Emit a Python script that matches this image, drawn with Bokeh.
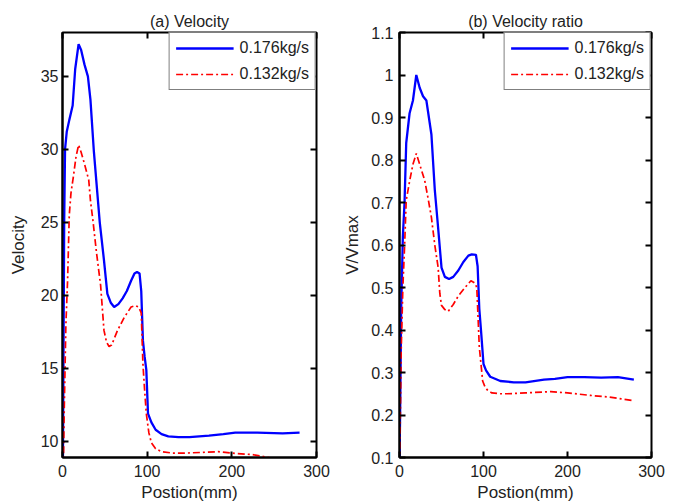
from bokeh.plotting import figure
from bokeh.layouts import row
from bokeh.models import Range1d, FixedTicker, LinearAxis
from bokeh.embed import file_html
from bokeh.resources import INLINE

# ---- data ----
# (a) Velocity
vel_176_x = [0, 1, 2, 3, 5, 8, 12, 15, 19, 22, 26, 30, 33, 37, 44, 49, 53, 57, 61, 66, 71, 76, 81,
             85, 88, 91, 93, 95, 97, 99, 101, 105, 110, 117, 125, 137, 150, 173, 190, 204, 230, 260, 280]
vel_176_y = [3, 14, 25, 30, 31.2, 32, 33, 35.5, 37.2, 36.8, 35.8, 35, 33.4, 29.9, 25, 22.4, 20.1, 19.5,
             19.2, 19.4, 19.8, 20.3, 21.0, 21.5, 21.6, 21.5, 20.3, 16.9, 15.8, 14.9, 11.9, 11.3, 10.8,
             10.5, 10.35, 10.3, 10.3, 10.4, 10.5, 10.6, 10.6, 10.55, 10.6]
vel_132_x = [0, 1, 2, 4, 6, 8, 10, 13, 16, 19, 22, 26, 31, 33, 36, 40, 45, 49, 52, 55, 58, 65, 73, 81,
             86, 90, 93, 95, 97, 99, 102, 105, 110, 117, 130, 144, 165, 184, 200, 224, 244, 260, 280]
vel_132_y = [2, 8, 12, 18, 21, 25.5, 27, 28.2, 29.5, 30.3, 29.8, 29.0, 27.9, 26.5, 25.1, 23, 20.7, 17.6,
             16.8, 16.5, 16.6, 17.6, 18.5, 19.2, 19.3, 19.2, 18.8, 15.3, 13.5, 11.9, 10.6, 9.9, 9.5,
             9.3, 9.2, 9.2, 9.25, 9.3, 9.2, 9.1, 8.9, 8.8, 8.7]

# (b) Velocity ratio
ratio_176_x = [0, 1, 2, 4, 6, 8, 12, 16, 20, 24, 28, 32, 38, 42, 46, 50, 54, 59, 64, 70, 76, 82, 86,
               91, 93, 95, 97, 100, 103, 108, 113, 120, 136, 150, 172, 185, 200, 220, 240, 260, 279]
ratio_176_y = [0.08, 0.25, 0.45, 0.62, 0.70, 0.84, 0.91, 0.94, 1.0, 0.97, 0.95, 0.94, 0.86, 0.73, 0.64,
               0.547, 0.525, 0.52, 0.525, 0.54, 0.56, 0.575, 0.578, 0.577, 0.55, 0.45, 0.40, 0.32,
               0.305, 0.29, 0.286, 0.28, 0.277, 0.277, 0.283, 0.285, 0.289, 0.289, 0.288, 0.289, 0.283]
ratio_132_x = [0, 1, 2, 4, 6, 8, 12, 16, 20, 24, 30, 34, 38, 42, 46, 48, 50, 54, 58, 64, 70, 78, 85,
               90, 92, 95, 97, 99, 102, 105, 110, 120, 129, 150, 180, 200, 228, 250, 278]
ratio_132_y = [0.05, 0.2, 0.35, 0.5, 0.594, 0.705, 0.75, 0.79, 0.815, 0.79, 0.752, 0.71, 0.665, 0.6,
               0.547, 0.486, 0.458, 0.448, 0.444, 0.46, 0.48, 0.50, 0.516, 0.51, 0.50, 0.36, 0.32,
               0.28, 0.265, 0.258, 0.252, 0.25, 0.25, 0.252, 0.255, 0.252, 0.246, 0.242, 0.234]

series_labels = ["0.176kg/s", "0.132kg/s"]
x_ticks = [0, 100, 200, 300]
x_tick_labels = ["0", "100", "200", "300"]
vel_ticks = [10, 15, 20, 25, 30, 35]
vel_tick_labels = ["10", "15", "20", "25", "30", "35"]
ratio_ticks = [0.1, 0.2, 0.3, 0.4, 0.5, 0.6, 0.7, 0.8, 0.9, 1.0, 1.1]
ratio_tick_labels = ["0.1", "0.2", "0.3", "0.4", "0.5", "0.6", "0.7", "0.8", "0.9", "1", "1.1"]

FONT = "Liberation Sans"
TXT = "#222222"


def style_axis(ax, ticks, labels, standoff):
    ax.ticker = FixedTicker(ticks=ticks)
    ax.major_label_overrides = {t: l for t, l in zip(ticks, labels)}
    ax.minor_tick_line_color = None
    ax.major_tick_in = 6
    ax.major_tick_out = 0
    ax.major_tick_line_width = 2
    ax.major_tick_line_color = "black"
    ax.axis_line_width = 2
    ax.axis_line_color = "black"
    ax.major_label_text_font = FONT
    ax.major_label_text_color = TXT
    ax.major_label_text_font_size = "16px"
    ax.major_label_standoff = standoff
    ax.axis_label_text_font = FONT
    ax.axis_label_text_font_size = "17px"
    ax.axis_label_text_font_style = "normal"
    ax.axis_label_text_color = TXT


def tick_only_axis(ticks):
    # box edge axis: inward ticks, labels not drawn at all
    ax = LinearAxis(ticker=FixedTicker(ticks=ticks))
    ax.minor_tick_line_color = None
    ax.major_tick_in = 6
    ax.major_tick_out = 0
    ax.major_tick_line_width = 2
    ax.major_tick_line_color = "black"
    ax.axis_line_color = None
    ax.major_label_text_color = None
    ax.major_label_text_font_size = "1px"
    ax.major_label_standoff = 0
    return ax


def make_panel(title, ylabel, yr, yticks, ylabels, xs1, ys1, xs2, ys2, width, left, ystand, ylstand):
    p = figure(width=width, height=504, output_backend="svg", toolbar_location=None,
               x_range=Range1d(0, 300), y_range=Range1d(*yr),
               min_border_left=left, min_border_right=24, min_border_top=32, min_border_bottom=47,
               title=title)
    p.title.text_font = FONT
    p.title.text_font_size = "16px"
    p.title.text_font_style = "normal"
    p.title.text_color = TXT
    p.title.align = "center"
    p.title.standoff = 6
    p.xgrid.grid_line_color = None
    p.ygrid.grid_line_color = None
    p.outline_line_color = "black"
    p.outline_line_width = 2
    p.outline_line_alpha = 1
    p.background_fill_color = "white"
    p.border_fill_color = "white"

    p.line(xs1, ys1, line_color="#0000ff", line_width=2.3, legend_label=series_labels[0])
    p.line(xs2, ys2, line_color="#ff0000", line_width=1.7, line_dash="7 3 2 3",
           legend_label=series_labels[1])

    style_axis(p.xaxis[0], x_ticks, x_tick_labels, 7)
    p.xaxis[0].axis_label = "Postion(mm)"
    p.xaxis[0].axis_label_standoff = 3
    style_axis(p.yaxis[0], yticks, ylabels, ystand)
    p.yaxis[0].axis_label = ylabel
    p.yaxis[0].axis_label_standoff = ylstand

    p.add_layout(tick_only_axis(x_ticks), "above")
    p.add_layout(tick_only_axis(yticks), "right")

    lg = p.legend[0]
    lg.location = "top_right"
    lg.margin = 0
    lg.border_line_color = "black"
    lg.border_line_width = 1.5
    lg.background_fill_alpha = 1
    lg.label_text_font = FONT
    lg.label_text_font_size = "16px"
    lg.label_text_color = TXT
    lg.glyph_width = 58
    lg.glyph_height = 16
    lg.label_height = 16
    lg.label_standoff = 6
    lg.spacing = 8
    lg.padding = 6
    return p


p1 = make_panel("(a) Velocity", "Velocity", (8.9, 38.0), vel_ticks, vel_tick_labels,
                vel_176_x, vel_176_y, vel_132_x, vel_132_y, 340, 62, 4, 10)
p2 = make_panel("(b) Velocity ratio", "V/Vmax", (0.1, 1.1), ratio_ticks, ratio_tick_labels,
                ratio_176_x, ratio_176_y, ratio_132_x, ratio_132_y, 335, 58, 6, 6)

layout = row(p1, p2)
open("out.html", "w").write(file_html(layout, INLINE))
